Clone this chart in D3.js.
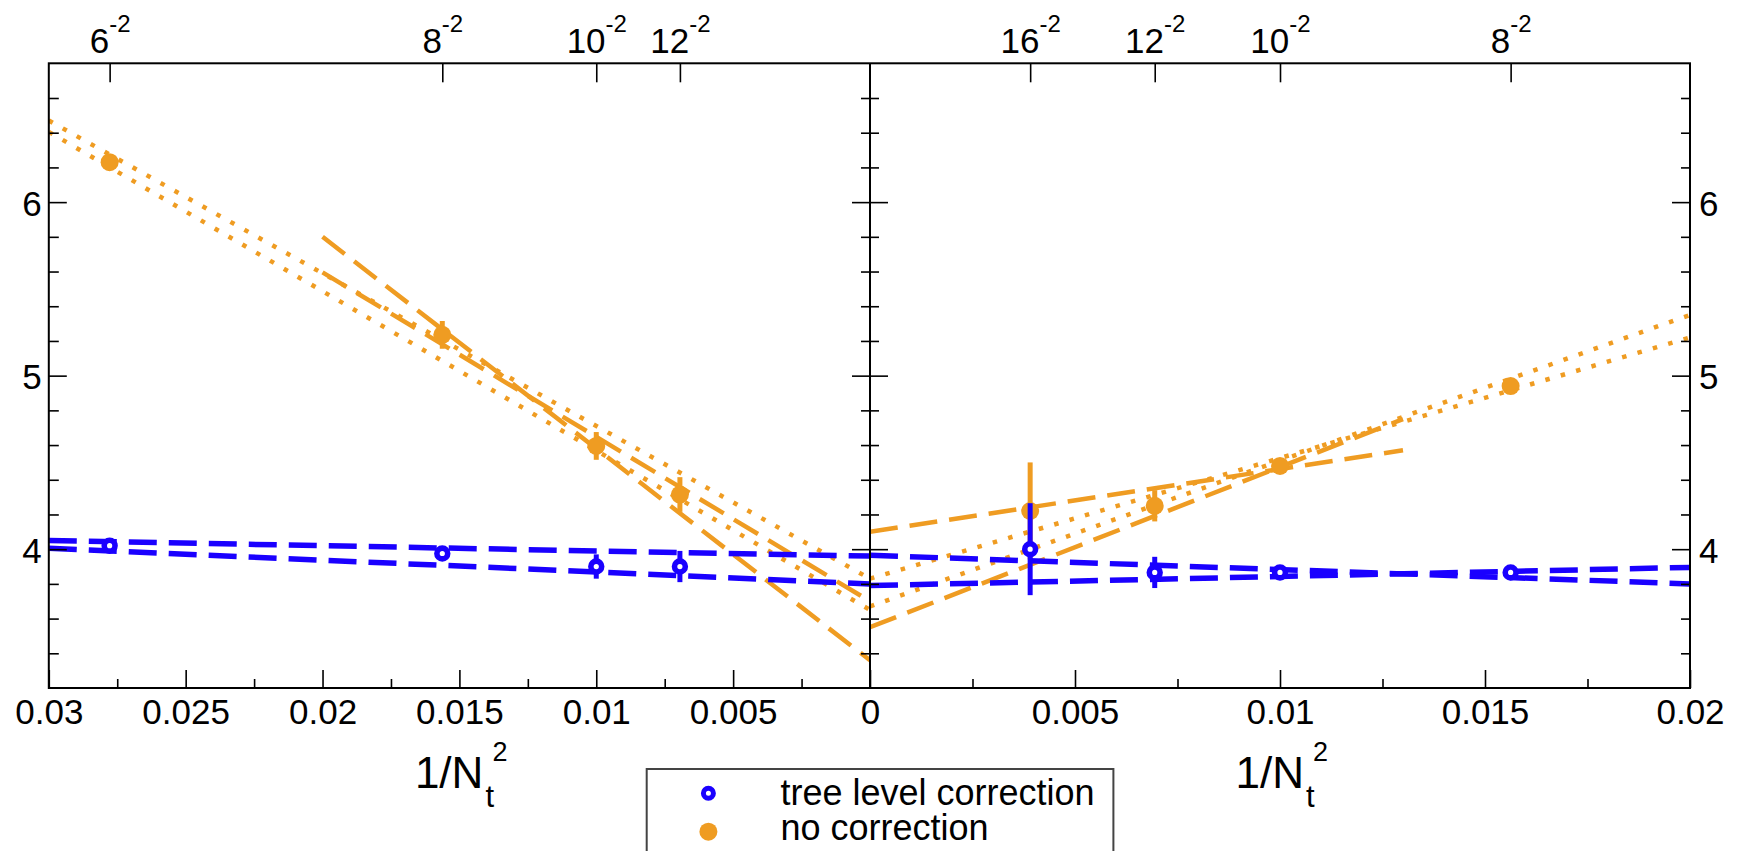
<!DOCTYPE html>
<html>
<head>
<meta charset="utf-8">
<script src="https://cdn.jsdelivr.net/npm/d3@7"></script>
<style>
  body { margin: 0; background: #fff; }
  svg { display: block; font-family: "Liberation Sans", Arial, sans-serif; }
</style>
</head>
<body>
<div id="root"></div>
<script>
// N_t of each lattice, top axis shows N_t^-2
const leftNt = [6, 8, 10, 12];
const rightNt = [16, 12, 10, 8];

// left panel values and errors
const leftTree = [4.02, 3.975, 3.90, 3.90];
const leftTreeErr = [0.03, 0.03, 0.07, 0.09];
const leftNoCorr = [6.23, 5.235, 4.595, 4.315];
const leftNoCorrErr = [0.03, 0.08, 0.08, 0.10];

// right panel values and errors
const rightTree = [4.00, 3.866, 3.866, 3.866];
const rightTreeErr = [0.265, 0.09, 0.03, 0.03];
const rightNoCorr = [4.22, 4.25, 4.48, 4.94];
const rightNoCorrErr = [0.28, 0.09, 0.03, 0.03];

// fit bands, [x0, y0, x1, y1]
const leftTreeFits = [[0.03, 4.05, 0, 3.96], [0.03, 4.005, 0, 3.80]];
const leftNoCorrFitsAll = [[0.03, 6.47, 0, 3.83], [0.03, 6.405, 0, 3.65]];
const leftNoCorrFitsFine = [[0.02, 5.80, 0, 3.36], [0.02, 5.595, 0, 3.70]];
const rightTreeFits = [[0, 3.965, 0.02, 3.80], [0, 3.79, 0.02, 3.895]];
const rightNoCorrFitsAll = [[0, 3.67, 0.02, 5.35], [0, 3.83, 0.02, 5.22]];
const rightNoCorrFitsFine = [[0, 4.10, 0.013, 4.57], [0, 3.55, 0.013, 4.75]];

// tick labels (the shared 0 is labelled once, by the right panel)
const leftXTicks = [0.03, 0.025, 0.02, 0.015, 0.01, 0.005];
const leftXMinor = [0.0275, 0.0225, 0.0175, 0.0125, 0.0075, 0.0025];
const rightXTicks = [0, 0.005, 0.01, 0.015, 0.02];
const rightXMinor = [0.0025, 0.0075, 0.0125, 0.0175];
const yTicks = [4, 5, 6];
const yMinor = [3.4, 3.6, 3.8, 4.2, 4.4, 4.6, 4.8, 5.2, 5.4, 5.6, 5.8, 6.2, 6.4, 6.6];
const seriesNames = ["tree level correction", "no correction"];

const w = 1748;
const h = 851;
const plotTop = 63.3, plotBottom = 688, plotLeft = 48.8, plotMid = 870, plotRight = 1690;
const blue = "#1a00ff";
const orange = "#ef9c22";
const font = "'Liberation Sans', Arial, sans-serif";

const xL = d3.scaleLinear().domain([0.03, 0]).range([plotLeft, plotMid]);
const xR = d3.scaleLinear().domain([0, 0.02]).range([plotMid, plotRight]);
const y = d3.scaleLinear().domain([3.2, 6.8]).range([plotBottom, plotTop]);

const svg = d3.select("#root")
  .append("svg")
  .attr("width", w)
  .attr("height", h)
  .style("background", "#fff");

function styleAxis(g, size) {
  g.select(".domain").remove();
  g.selectAll(".tick line").attr("stroke", "#000").attr("stroke-width", 1.6);
  g.selectAll(".tick text")
    .attr("fill", "#000")
    .attr("font-size", size || 35)
    .attr("font-family", font);
  return g;
}

function drawPanel(xs, nts, tree, treeErr, noCorr, noCorrErr, treeFits, fitsAll, fitsFine, id) {
  const x0 = xs.range()[0], x1 = xs.range()[1];
  svg.append("clipPath").attr("id", id)
    .append("rect")
    .attr("x", x0).attr("y", plotTop)
    .attr("width", x1 - x0).attr("height", plotBottom - plotTop);

  const g = svg.append("g").attr("clip-path", `url(#${id})`);
  const line = d3.line().x(d => xs(d[0])).y(d => y(d[1]));
  const seg = f => [[f[0], f[1]], [f[2], f[3]]];
  const px = i => xs(1 / (nts[i] * nts[i]));

  // no correction: fits, error bars, points
  g.selectAll(".dotfit")
    .data(fitsAll)
    .enter()
    .append("path")
    .attr("d", f => line(seg(f)))
    .attr("fill", "none")
    .attr("stroke", orange)
    .attr("stroke-width", 4.5)
    .attr("stroke-dasharray", "4.5,11.5");

  g.selectAll(".dashfit")
    .data(fitsFine)
    .enter()
    .append("path")
    .attr("d", f => line(seg(f)))
    .attr("fill", "none")
    .attr("stroke", orange)
    .attr("stroke-width", 4.5)
    .attr("stroke-dasharray", "28,12");

  g.selectAll(".errOrange")
    .data(noCorr)
    .enter()
    .append("line")
    .attr("x1", (d, i) => px(i))
    .attr("x2", (d, i) => px(i))
    .attr("y1", (d, i) => y(d - noCorrErr[i]))
    .attr("y2", (d, i) => y(d + noCorrErr[i]))
    .attr("stroke", orange)
    .attr("stroke-width", 5);

  g.selectAll(".ptOrange")
    .data(noCorr)
    .enter()
    .append("circle")
    .attr("cx", (d, i) => px(i))
    .attr("cy", d => y(d))
    .attr("r", 9)
    .attr("fill", orange);

  // tree level correction
  g.selectAll(".treefit")
    .data(treeFits)
    .enter()
    .append("path")
    .attr("d", f => line(seg(f)))
    .attr("fill", "none")
    .attr("stroke", blue)
    .attr("stroke-width", 5.5)
    .attr("stroke-dasharray", "28,12");

  g.selectAll(".errBlue")
    .data(tree)
    .enter()
    .append("line")
    .attr("x1", (d, i) => px(i))
    .attr("x2", (d, i) => px(i))
    .attr("y1", (d, i) => y(d - treeErr[i]))
    .attr("y2", (d, i) => y(d + treeErr[i]))
    .attr("stroke", blue)
    .attr("stroke-width", 5);

  g.selectAll(".ptBlue")
    .data(tree)
    .enter()
    .append("circle")
    .attr("cx", (d, i) => px(i))
    .attr("cy", d => y(d))
    .attr("r", 5.4)
    .attr("fill", "#fff")
    .attr("stroke", blue)
    .attr("stroke-width", 5.6);

  // top axis with N_t^-2 labels
  const topAxis = svg.append("g")
    .attr("transform", `translate(0, ${plotTop})`)
    .call(d3.axisTop(xs)
      .tickValues(nts.map(n => 1 / (n * n)))
      .tickSize(-19)
      .tickPadding(10)
      .tickFormat(""));
  styleAxis(topAxis);
  topAxis.selectAll(".tick text").each(function(d, i) {
    const t = d3.select(this);
    t.append("tspan").text(nts[i]);
    t.append("tspan").attr("font-size", 24).attr("dy", -21).text("-2");
  });
}

drawPanel(xL, leftNt, leftTree, leftTreeErr, leftNoCorr, leftNoCorrErr,
  leftTreeFits, leftNoCorrFitsAll, leftNoCorrFitsFine, "clipLeft");
drawPanel(xR, rightNt, rightTree, rightTreeErr, rightNoCorr, rightNoCorrErr,
  rightTreeFits, rightNoCorrFitsAll, rightNoCorrFitsFine, "clipRight");

// bottom axes
[[xL, leftXTicks, leftXMinor], [xR, rightXTicks, rightXMinor]].forEach(([xs, major, minor]) => {
  styleAxis(svg.append("g")
    .attr("transform", `translate(0, ${plotBottom})`)
    .call(d3.axisBottom(xs)
      .tickValues(major)
      .tickSize(-18)
      .tickPadding(11)
      .tickFormat(d3.format(""))));
  styleAxis(svg.append("g")
    .attr("transform", `translate(0, ${plotBottom})`)
    .call(d3.axisBottom(xs).tickValues(minor).tickSize(-9).tickFormat("")));
});

// y axes: left, middle (both sides), right
const yLeft = styleAxis(svg.append("g")
  .attr("transform", `translate(${plotLeft}, 0)`)
  .call(d3.axisLeft(y).tickValues(yTicks).tickSize(-18).tickPadding(7).tickFormat(d3.format("d"))));
yLeft.selectAll(".tick text").attr("dy", "0.37em");
styleAxis(svg.append("g")
  .attr("transform", `translate(${plotLeft}, 0)`)
  .call(d3.axisLeft(y).tickValues(yMinor).tickSize(-10).tickFormat("")));

[d3.axisLeft, d3.axisRight].forEach(ax => {
  styleAxis(svg.append("g")
    .attr("transform", `translate(${plotMid}, 0)`)
    .call(ax(y).tickValues(yTicks).tickSize(18).tickFormat("")));
  styleAxis(svg.append("g")
    .attr("transform", `translate(${plotMid}, 0)`)
    .call(ax(y).tickValues(yMinor).tickSize(9).tickFormat("")));
});

const yRight = styleAxis(svg.append("g")
  .attr("transform", `translate(${plotRight}, 0)`)
  .call(d3.axisRight(y).tickValues(yTicks).tickSize(-18).tickPadding(9).tickFormat(d3.format("d"))));
yRight.selectAll(".tick text").attr("dy", "0.37em");
styleAxis(svg.append("g")
  .attr("transform", `translate(${plotRight}, 0)`)
  .call(d3.axisRight(y).tickValues(yMinor).tickSize(-9).tickFormat("")));

// frames
svg.append("rect")
  .attr("x", plotLeft).attr("y", plotTop)
  .attr("width", plotRight - plotLeft).attr("height", plotBottom - plotTop)
  .attr("fill", "none").attr("stroke", "#000").attr("stroke-width", 2);
svg.append("line")
  .attr("x1", plotMid).attr("x2", plotMid).attr("y1", plotTop).attr("y2", plotBottom)
  .attr("stroke", "#000").attr("stroke-width", 2);

// axis titles 1/N_t^2
[(plotLeft + plotMid) / 2, (plotMid + plotRight) / 2].forEach(cx => {
  const t = svg.append("g").attr("font-family", font).attr("fill", "#000");
  t.append("text").attr("x", cx - 44.5).attr("y", 788).attr("font-size", 44).text("1/N");
  t.append("text").attr("x", cx + 33).attr("y", 761).attr("font-size", 27).text("2");
  t.append("text").attr("x", cx + 26).attr("y", 807).attr("font-size", 31).text("t");
});

// legend
const legend = svg.append("g");
legend.append("rect")
  .attr("x", 646.7).attr("y", 769)
  .attr("width", 466.7).attr("height", 120)
  .attr("fill", "#fff").attr("stroke", "#444").attr("stroke-width", 2);
legend.append("circle")
  .attr("cx", 708.4).attr("cy", 793.3).attr("r", 5)
  .attr("fill", "#fff").attr("stroke", blue).attr("stroke-width", 5);
legend.append("circle")
  .attr("cx", 708.4).attr("cy", 831.7).attr("r", 9)
  .attr("fill", orange);
legend.selectAll("text")
  .data(seriesNames)
  .enter()
  .append("text")
  .attr("x", 780.5)
  .attr("y", (d, i) => [805, 840][i])
  .attr("font-size", 36)
  .attr("font-family", font)
  .attr("fill", "#000")
  .text(d => d);
</script>
</body>
</html>
